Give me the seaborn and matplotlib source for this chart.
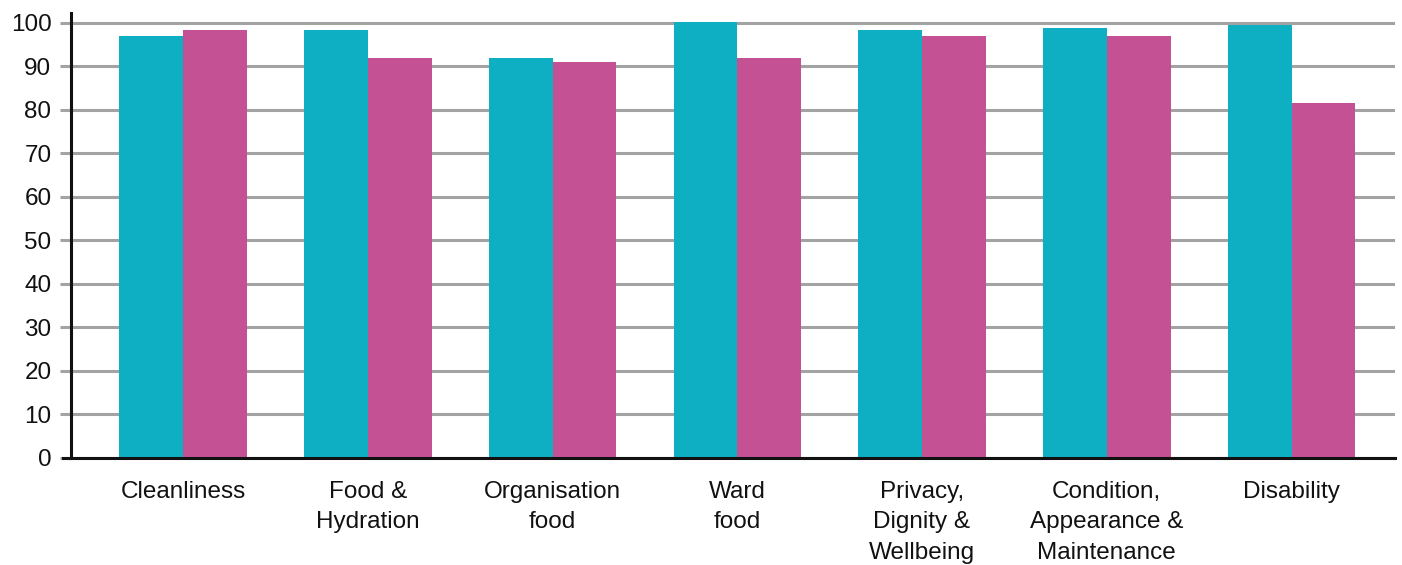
import matplotlib
matplotlib.use("Agg")
import matplotlib.pyplot as plt
import seaborn as sns
import pandas as pd

categories = ["Cleanliness", "Food &\nHydration", "Organisation\nfood", "Ward\nfood",
              "Privacy,\nDignity &\nWellbeing", "Condition,\nAppearance &\nMaintenance", "Disability"]
series_names = ["Series A", "Series B"]
series_a = [97.0, 98.3, 91.9, 100.2, 98.3, 98.9, 99.6]
series_b = [98.3, 91.9, 91.1, 91.9, 97.0, 97.0, 81.5]
y_ticks = [0, 10, 20, 30, 40, 50, 60, 70, 80, 90, 100]

colors = ["#0EAFC3", "#C45194"]

df = pd.DataFrame({
    "category": categories * 2,
    "series": [series_names[0]] * len(categories) + [series_names[1]] * len(categories),
    "value": series_a + series_b,
})

sns.set_theme(style="white")
plt.rcParams["font.family"] = ["Liberation Sans", "DejaVu Sans"]

fig = plt.figure(figsize=(14.02, 5.65), dpi=100)
ax = fig.add_axes([0.0506, 0.1894, 0.9444, 0.7876])

sns.barplot(data=df, x="category", y="value", hue="series", order=categories,
            hue_order=series_names, palette=colors, width=0.69, saturation=1,
            edgecolor="none", linewidth=0, ax=ax, legend=False, zorder=3)
for p in ax.patches:
    p.set_clip_on(False)

ax.set_ylim(0, 102.3)
ax.set_xlim(-0.607, 6.56)
ax.set_yticks(y_ticks)
ax.set_yticklabels([str(t) for t in y_ticks], fontsize=17.5, color="#111111")
ax.yaxis.grid(True, color="#A3A3A3", linewidth=2.2, zorder=0)
ax.xaxis.grid(False)
ax.set_axisbelow(True)
ax.tick_params(axis="y", which="major", length=8, width=2.2, color="#A3A3A3",
               left=True, pad=6)
ax.tick_params(axis="x", length=0, pad=16.5)
for lbl in ax.get_xticklabels():
    lbl.set_fontsize(17.5)
    lbl.set_color("#111111")
    lbl.set_linespacing(1.5)
    lbl.set_verticalalignment("top")

ax.set_xlabel("")
ax.set_ylabel("")
for side in ["top", "right"]:
    ax.spines[side].set_visible(False)
for side in ["left", "bottom"]:
    ax.spines[side].set_color("#111111")
    ax.spines[side].set_linewidth(2.2)
    ax.spines[side].set_zorder(5)
ax.spines["bottom"].set_bounds(-0.65, 6.56)

fig.savefig("out.png", dpi=100)
